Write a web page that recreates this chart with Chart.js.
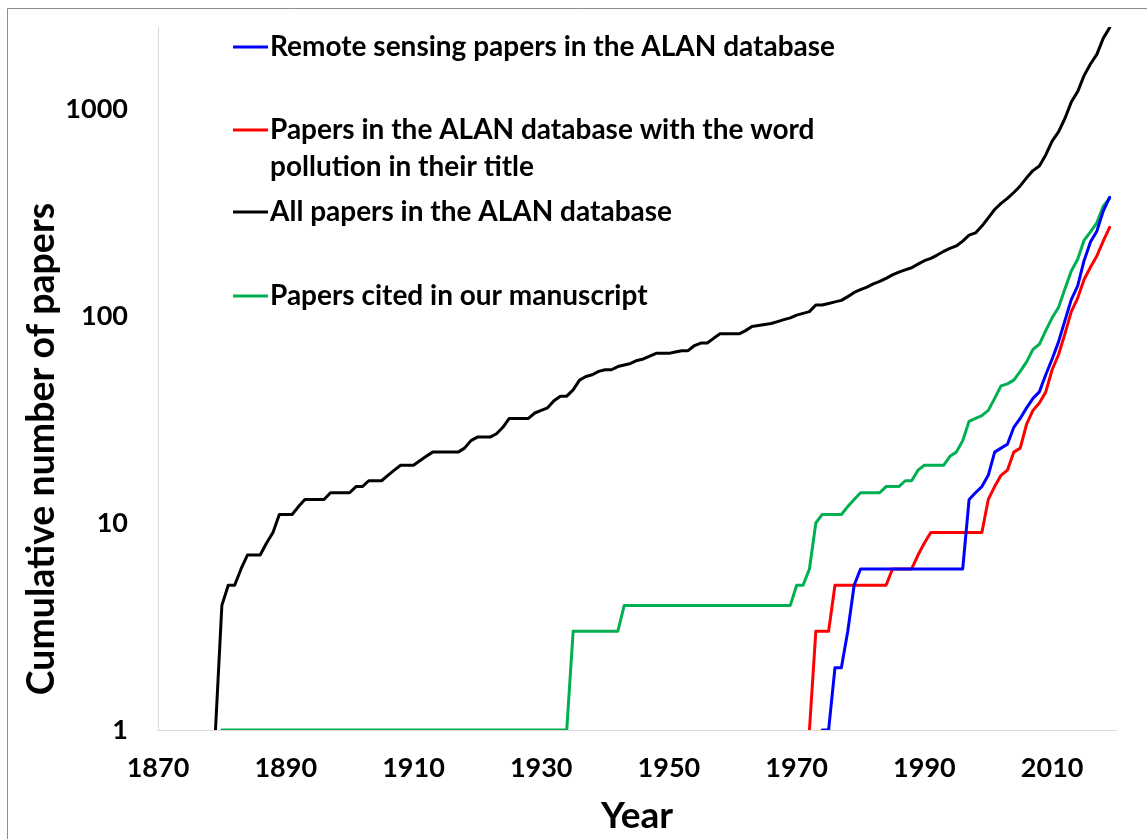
<!DOCTYPE html>
<html>
<head>
<meta charset="utf-8">
<title>Cumulative number of papers</title>
<script src="https://cdn.jsdelivr.net/npm/chart.js"></script>
<style>
  html, body { margin: 0; padding: 0; background: #fff; overflow: hidden; }
</style>
</head>
<body>
<canvas id="papersChart" width="1147" height="839"></canvas>
<script>
// axis labels
const tickYears = [1870, 1890, 1910, 1930, 1950, 1970, 1990, 2010];
const tickCounts = [1, 10, 100, 1000];

// cumulative number of papers, one value per year starting at the start year
const remoteStart = 1974;
const remoteSensing = [
  1, 1, 2, 2, 3, 5,
  6, 6, 6, 6, 6, 6, 6, 6, 6, 6,
  6, 6, 6, 6, 6, 6, 6, 13, 14, 15,
  17, 22, 23, 24, 29, 32, 36, 40, 43, 52,
  62, 75, 95, 120, 140, 185, 228, 257, 321, 374
];

const pollutionStart = 1972;
const pollutionTitle = [
  1, 3, 3, 3, 5, 5, 5, 5,
  5, 5, 5, 5, 5, 6, 6, 6, 6, 7,
  8, 9, 9, 9, 9, 9, 9, 9, 9, 9,
  13, 15, 17, 18, 22, 23, 30, 35, 38, 43,
  55, 65, 82, 105, 122, 150, 172, 195, 230, 268
];

const allStart = 1879;
const allPapers = [
  1,
  4, 5, 5, 6, 7, 7, 7, 8, 9, 11,
  11, 11, 12, 13, 13, 13, 13, 14, 14, 14,
  14, 15, 15, 16, 16, 16, 17, 18, 19, 19,
  19, 20, 21, 22, 22, 22, 22, 22, 23, 25,
  26, 26, 26, 27, 29, 32, 32, 32, 32, 34,
  35, 36, 39, 41, 41, 44, 49, 51, 52, 54,
  55, 55, 57, 58, 59, 61, 62, 64, 66, 66,
  66, 67, 68, 68, 72, 74, 74, 78, 82, 82,
  82, 82, 85, 89, 90, 91, 92, 94, 96, 98,
  101, 103, 105, 113, 113, 115, 117, 119, 124, 130,
  134, 138, 143, 147, 152, 158, 163, 167, 171, 178,
  185, 190, 197, 205, 212, 218, 230, 246, 252, 272,
  298, 327, 350, 370, 395, 425, 465, 504, 530, 600,
  700, 775, 900, 1080, 1214, 1450, 1650, 1837, 2194, 2472
];

const citedStart = 1880;
const citedPapers = [
  1, 1, 1, 1, 1, 1, 1, 1, 1, 1,
  1, 1, 1, 1, 1, 1, 1, 1, 1, 1,
  1, 1, 1, 1, 1, 1, 1, 1, 1, 1,
  1, 1, 1, 1, 1, 1, 1, 1, 1, 1,
  1, 1, 1, 1, 1, 1, 1, 1, 1, 1,
  1, 1, 1, 1, 1, 3, 3, 3, 3, 3,
  3, 3, 3, 4, 4, 4, 4, 4, 4, 4,
  4, 4, 4, 4, 4, 4, 4, 4, 4, 4,
  4, 4, 4, 4, 4, 4, 4, 4, 4, 4,
  5, 5, 6, 10, 11, 11, 11, 11, 12, 13,
  14, 14, 14, 14, 15, 15, 15, 16, 16, 18,
  19, 19, 19, 19, 21, 22, 25, 31, 32, 33,
  35, 40, 46, 47, 49, 54, 60, 69, 73, 85,
  98, 110, 135, 165, 188, 232, 255, 282, 339, 370
];

function toPoints(start, values) {
  return values.map((v, i) => ({ x: start + i, y: v }));
}

const FONT = 'Lato, "Open Sans", sans-serif';

// legend rows, y of the first text line of each entry
const legendRows = [47, 130, 212, 296];

const overlay = {
  id: 'overlay',
  beforeDraw(chart) {
    const ctx = chart.ctx;
    ctx.save();
    ctx.strokeStyle = '#8c8c8c';
    ctx.lineWidth = 1;
    ctx.beginPath();
    ctx.moveTo(7.5, 839);
    ctx.lineTo(7.5, 8.5);
    ctx.lineTo(1147, 8.5);
    ctx.stroke();
    ctx.restore();
  },
  afterDraw(chart) {
    const ctx = chart.ctx;
    const area = chart.chartArea;
    ctx.save();
    ctx.fillStyle = '#000';
    ctx.textAlign = 'center';
    ctx.textBaseline = 'middle';

    // axis titles
    ctx.font = 'bold 37px ' + FONT;
    ctx.fillText('Year', (area.left + area.right) / 2, 816);
    ctx.save();
    ctx.translate(42, 449);
    ctx.rotate(-Math.PI / 2);
    ctx.font = 'bold 37.5px ' + FONT;
    ctx.fillText('Cumulative number of papers', 0, 0);
    ctx.restore();

    // legend
    ctx.textAlign = 'left';
    ctx.font = 'bold 28px ' + FONT;
    chart.data.datasets.forEach((ds, i) => {
      const y = legendRows[i];
      ctx.strokeStyle = ds.borderColor;
      ctx.lineWidth = 3;
      ctx.beginPath();
      ctx.moveTo(233, y);
      ctx.lineTo(268, y);
      ctx.stroke();
      const lines = Array.isArray(ds.label) ? ds.label : [ds.label];
      lines.forEach((t, k) => ctx.fillText(t, 270, y + k * 37));
    });
    ctx.restore();
  }
};

new Chart(document.getElementById('papersChart'), {
  type: 'line',
  data: {
    datasets: [
      {
        label: 'Remote sensing papers in the ALAN database',
        data: toPoints(remoteStart, remoteSensing),
        borderColor: '#0000ff'
      },
      {
        label: ['Papers in the ALAN database with the word', 'pollution in their title'],
        data: toPoints(pollutionStart, pollutionTitle),
        borderColor: '#ff0000'
      },
      {
        label: 'All papers in the ALAN database',
        data: toPoints(allStart, allPapers),
        borderColor: '#000000'
      },
      {
        label: 'Papers cited in our manuscript',
        data: toPoints(citedStart, citedPapers),
        borderColor: '#00b050'
      }
    ]
  },
  options: {
    responsive: false,
    animation: false,
    events: [],
    layout: { padding: { top: 27, right: 31, left: 0, bottom: 0 } },
    elements: {
      line: { borderWidth: 3, tension: 0, borderCapStyle: 'round', borderJoinStyle: 'round' },
      point: { radius: 0 }
    },
    plugins: {
      legend: { display: false },
      tooltip: { enabled: false }
    },
    scales: {
      x: {
        type: 'linear',
        min: 1870,
        max: 2020,
        grid: { display: false, drawTicks: false },
        border: { display: true, color: '#d9d9d9', width: 1 },
        afterFit: s => { s.height = 109; s.paddingLeft = 0; s.paddingRight = 0; },
        afterBuildTicks: s => { s.ticks = tickYears.map(v => ({ value: v })); },
        ticks: {
          padding: 22,
          color: '#000',
          maxRotation: 0,
          autoSkip: false,
          font: { family: FONT, size: 27, weight: 'bold' },
          callback: v => String(v)
        }
      },
      y: {
        type: 'logarithmic',
        min: 1,
        max: 2490,
        grid: { display: false, drawTicks: false },
        border: { display: true, color: '#d9d9d9', width: 1 },
        afterFit: s => { s.width = 158; s.paddingTop = 0; s.paddingBottom = 0; },
        afterBuildTicks: s => { s.ticks = tickCounts.map(v => ({ value: v })); },
        ticks: {
          padding: 30,
          color: '#000',
          autoSkip: false,
          font: { family: FONT, size: 27, weight: 'bold' },
          callback: v => String(v)
        }
      }
    }
  },
  plugins: [overlay]
});
</script>
</body>
</html>
